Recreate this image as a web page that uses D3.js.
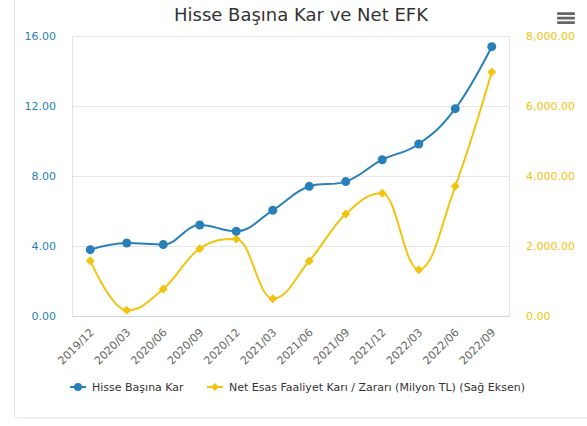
<!DOCTYPE html>
<html>
<head>
<meta charset="utf-8">
<script src="https://cdn.jsdelivr.net/npm/d3@7"></script>
<style>
  html, body { margin: 0; padding: 0; background: #fff; }
  svg { display: block; }
  text { font-family: "DejaVu Sans", Verdana, sans-serif; }
</style>
</head>
<body>
<svg id="chart" width="587" height="426"></svg>
<script>
const categories = ["2019/12","2020/03","2020/06","2020/09","2020/12","2021/03","2021/06","2021/09","2021/12","2022/03","2022/06","2022/09"];
const epsValues = [3.79, 4.17, 4.08, 5.2, 4.84, 6.04, 7.41, 7.68, 8.93, 9.83, 11.85, 15.39];
const efkValues = [1580, 162, 771, 1924, 2200, 495, 1571, 2914, 3505, 1324, 3705, 6971];
const leftTicks = [0, 4, 8, 12, 16];
const rightTicks = [0, 2000, 4000, 6000, 8000];
const seriesNames = ["Hisse Başına Kar", "Net Esas Faaliyet Karı / Zararı (Milyon TL) (Sağ Eksen)"];
const titleText = "Hisse Başına Kar ve Net EFK";

const BLUE = "#2980b9", YELLOW = "#f1c40f";
const plot = { left: 72, right: 510, top: 36, bottom: 316 };

const svg = d3.select("#chart");

// card
svg.append("rect").attr("x", 14.5).attr("y", -10).attr("width", 600).attr("height", 428)
  .attr("rx", 4).attr("fill", "#fff").attr("stroke", "#e3e3e3");

// title
svg.append("text").attr("x", 301).attr("y", 21).attr("text-anchor", "middle")
  .attr("font-size", 18).attr("fill", "#333").text(titleText);

// hamburger
[13.5, 18, 22.5].forEach(y => {
  svg.append("rect").attr("x", 557).attr("y", y - 1.2).attr("width", 18).attr("height", 2.6)
    .attr("rx", 1).attr("fill", "#666");
});

const x = d3.scalePoint().domain(categories).range([plot.left, plot.right]).padding(0.5);
const yL = d3.scaleLinear().domain([0, 16]).range([plot.bottom, plot.top]);
const yR = d3.scaleLinear().domain([0, 8000]).range([plot.bottom, plot.top]);

// grid
svg.append("g").selectAll("line").data(leftTicks).join("line")
  .attr("x1", plot.left).attr("x2", plot.right)
  .attr("y1", d => Math.round(yL(d)) + 0.5).attr("y2", d => Math.round(yL(d)) + 0.5)
  .attr("stroke", "#e6e6e6");

// plot border
svg.append("rect").attr("x", plot.left + 0.5).attr("y", plot.top + 0.5)
  .attr("width", plot.right - plot.left - 1).attr("height", plot.bottom - plot.top)
  .attr("fill", "none").attr("stroke", "#dfe4f1");
svg.append("line").attr("x1", plot.left).attr("x2", plot.right)
  .attr("y1", plot.bottom + 0.5).attr("y2", plot.bottom + 0.5).attr("stroke", "#ccd6eb");

// left axis
const gL = svg.append("g").attr("transform", `translate(${plot.left},0)`)
  .call(d3.axisLeft(yL).tickValues(leftTicks).tickFormat(d3.format(".2f")).tickSize(0).tickPadding(16));
gL.select(".domain").remove();
gL.selectAll("text").attr("font-size", 11).attr("fill", BLUE).attr("font-family", "DejaVu Sans");

// right axis
const gR = svg.append("g").attr("transform", `translate(${plot.right},0)`)
  .call(d3.axisRight(yR).tickValues(rightTicks).tickFormat(d3.format(",.2f")).tickSize(0).tickPadding(16));
gR.select(".domain").remove();
gR.selectAll("text").attr("font-size", 11).attr("fill", YELLOW).attr("font-family", "DejaVu Sans");

// x axis
const gX = svg.append("g").attr("transform", `translate(0,${plot.bottom})`)
  .call(d3.axisBottom(x).tickSize(0));
gX.select(".domain").remove();
gX.selectAll("text").attr("font-size", 11).attr("fill", "#666").attr("font-family", "DejaVu Sans")
  .attr("text-anchor", "end").attr("x", 0).attr("y", 0).attr("dy", 0)
  .attr("transform", "translate(4,17) rotate(-45)");

// Highcharts-like spline
function splinePath(pts) {
  const smoothing = 1.5, denom = smoothing + 1;
  const p = d3.path();
  const ctrl = pts.map(() => ({}));
  pts.forEach((pt, i) => {
    const last = pts[i - 1], next = pts[i + 1];
    if (last && next) {
      let lcx = (smoothing * pt[0] + last[0]) / denom, lcy = (smoothing * pt[1] + last[1]) / denom;
      let rcx = (smoothing * pt[0] + next[0]) / denom, rcy = (smoothing * pt[1] + next[1]) / denom;
      if (rcx !== lcx) {
        const corr = ((rcy - lcy) * (rcx - pt[0])) / (rcx - lcx) + pt[1] - rcy;
        lcy += corr; rcy += corr;
        if (lcy > last[1] && lcy > pt[1]) { lcy = Math.max(last[1], pt[1]); rcy = 2 * pt[1] - lcy; }
        else if (lcy < last[1] && lcy < pt[1]) { lcy = Math.min(last[1], pt[1]); rcy = 2 * pt[1] - lcy; }
        if (rcy > next[1] && rcy > pt[1]) { rcy = Math.max(next[1], pt[1]); lcy = 2 * pt[1] - rcy; }
        else if (rcy < next[1] && rcy < pt[1]) { rcy = Math.min(next[1], pt[1]); lcy = 2 * pt[1] - rcy; }
      }
      ctrl[i] = { lcx, lcy, rcx, rcy };
    } else {
      ctrl[i] = { lcx: pt[0], lcy: pt[1], rcx: pt[0], rcy: pt[1] };
    }
  });
  pts.forEach((pt, i) => {
    if (i === 0) p.moveTo(pt[0], pt[1]);
    else p.bezierCurveTo(ctrl[i - 1].rcx, ctrl[i - 1].rcy, ctrl[i].lcx, ctrl[i].lcy, pt[0], pt[1]);
  });
  return p.toString();
}

const efkPts = categories.map((c, i) => [x(c), yR(efkValues[i])]);
const epsPts = categories.map((c, i) => [x(c), yL(epsValues[i])]);

svg.append("path").attr("d", splinePath(efkPts)).attr("fill", "none")
  .attr("stroke", YELLOW).attr("stroke-width", 2).attr("stroke-linejoin", "round");
svg.append("path").attr("d", splinePath(epsPts)).attr("fill", "none")
  .attr("stroke", BLUE).attr("stroke-width", 2).attr("stroke-linejoin", "round");

const diamond = (cx, cy, r) => `M${cx},${cy - r}L${cx + r},${cy}L${cx},${cy + r}L${cx - r},${cy}Z`;

svg.append("g").selectAll("path").data(efkPts).join("path")
  .attr("d", d => diamond(d[0], d[1], 4.5)).attr("fill", YELLOW);
svg.append("g").selectAll("circle").data(epsPts).join("circle")
  .attr("cx", d => d[0]).attr("cy", d => d[1]).attr("r", 4.5).attr("fill", BLUE);

// legend
const legY = 387;
const leg = svg.append("g");
const items = [
  { name: seriesNames[0], color: BLUE, x0: 70, shape: "circle" },
  { name: seriesNames[1], color: YELLOW, x0: 207, shape: "diamond" }
];
items.forEach(it => {
  leg.append("line").attr("x1", it.x0).attr("x2", it.x0 + 16).attr("y1", legY).attr("y2", legY)
    .attr("stroke", it.color).attr("stroke-width", 2);
  if (it.shape === "circle") {
    leg.append("circle").attr("cx", it.x0 + 8).attr("cy", legY).attr("r", 4).attr("fill", it.color);
  } else {
    leg.append("path").attr("d", diamond(it.x0 + 8, legY, 4)).attr("fill", it.color);
  }
  leg.append("text").attr("x", it.x0 + 22).attr("y", legY + 4).attr("font-size", 11)
    .attr("fill", "#333").text(it.name);
});
</script>
</body>
</html>
